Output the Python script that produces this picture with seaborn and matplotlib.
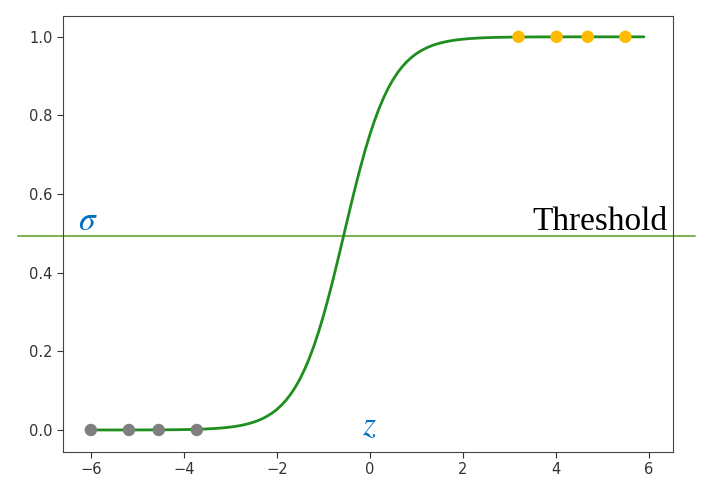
import numpy as np
import pandas as pd
import matplotlib
matplotlib.use("Agg")
import matplotlib.pyplot as plt
import seaborn as sns

# sigmoid curve sampled on the z axis
z = np.arange(-6, 6, 0.1)
sigma = 1 / (1 + np.exp(-2.0 * (z + 0.55)))

# class samples
neg_x = [-6.0, -5.18, -4.54, -3.72]
neg_y = [0.0, 0.0, 0.0, 0.0]
pos_x = [3.2, 4.02, 4.69, 5.5]
pos_y = [1.0, 1.0, 1.0, 1.0]
threshold = 0.494

curve = pd.DataFrame({"z": z, "sigma": sigma})
neg = pd.DataFrame({"z": neg_x, "sigma": neg_y})
pos = pd.DataFrame({"z": pos_x, "sigma": pos_y})

sns.set_style("ticks")
plt.rcParams["font.family"] = ["DejaVu Sans"]
plt.rcParams["mathtext.fontset"] = "stix"

fig = plt.figure(figsize=(7.18, 4.92), dpi=100)
ax = fig.add_axes([0.0877, 0.0813, 0.8493, 0.8862])

sns.lineplot(data=curve, x="z", y="sigma", color="#1e8f1e", linewidth=2, ax=ax, zorder=2)
sns.scatterplot(data=neg, x="z", y="sigma", color="#7f7f7f", s=80, edgecolor="none", ax=ax, zorder=3)
sns.scatterplot(data=pos, x="z", y="sigma", color="#ffbb00", s=80, edgecolor="none", ax=ax, zorder=3)

ax.set_xlim(-6.6, 6.52)
ax.set_ylim(-0.056, 1.053)
ax.set_xticks([-6, -4, -2, 0, 2, 4, 6])
ax.set_yticks([0.0, 0.2, 0.4, 0.6, 0.8, 1.0])
ax.set_yticklabels(["0.0", "0.2", "0.4", "0.6", "0.8", "1.0"])
ax.set_xticklabels(["\u22126", "\u22124", "\u22122", "0", "2", "4", "6"])
ax.set_xlabel("")
ax.set_ylabel("")
ax.tick_params(labelsize=10.5, colors="#333333", length=4)
for s in ax.spines.values():
    s.set_visible(True)
    s.set_color("#444444")

# threshold line stretching past the axes
ax.axhline(threshold, xmin=-0.074, xmax=1.036, color="#70ad47", linewidth=1.3, clip_on=False, zorder=1)
ax.text(6.41, 0.509, "Threshold", family="Liberation Serif", fontsize=24,
        ha="right", va="baseline", color="black")
ax.text(-6.28, 0.509, "$\\sigma$", fontsize=24, color="#0070c0", ha="left", va="baseline")
ax.text(0, -0.013, "$z$", fontsize=24, color="#0070c0", ha="center", va="baseline")

fig.savefig("out.png", dpi=100)
